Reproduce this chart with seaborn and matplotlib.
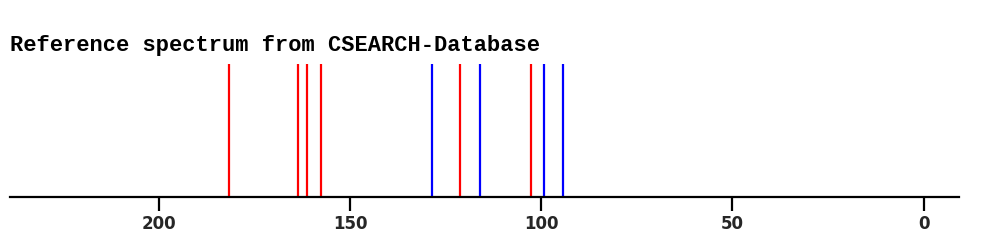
import matplotlib
matplotlib.use("Agg")
import matplotlib.pyplot as plt
import seaborn as sns
import pandas as pd

# Chemical shifts (ppm)
red_shifts = [181.6, 163.6, 161.3, 157.6, 121.3, 102.7]
blue_shifts = [128.5, 116.1, 99.2, 94.2]
tick_values = [200, 150, 100, 50, 0]
title = "Reference spectrum from CSEARCH-Database"

df = pd.DataFrame({
    "shift": red_shifts + blue_shifts,
    "kind": ["red"] * len(red_shifts) + ["blue"] * len(blue_shifts),
})

sns.set_style("white")
fig = plt.figure(figsize=(9.93, 2.49), dpi=100)
ax = fig.add_axes([0.0097, 0.21, 0.9563, 0.533])

sns.rugplot(data=df, x="shift", hue="kind", palette={"red": "#ff0000", "blue": "#0000ff"},
            height=1.0, linewidth=1.6, expand_margins=False, legend=False, ax=ax)

ax.set_xlim(239.0, -9.3)
ax.set_ylim(0, 1)
ax.set_yticks([])
ax.set_xticks(tick_values)
ax.set_xticklabels([str(t) for t in tick_values], fontsize=12, fontweight="semibold",
                   family="DejaVu Sans")
ax.set_xlabel("")
ax.set_ylabel("")
for s in ["top", "left", "right"]:
    ax.spines[s].set_visible(False)
ax.spines["bottom"].set_color("black")
ax.spines["bottom"].set_linewidth(1.6)
ax.tick_params(axis="x", direction="out", length=10, width=1.6, color="black", pad=3,
               bottom=True)

fig.text(10 / 993, (249 - 50.5) / 249, title, family="Liberation Mono", fontweight="bold",
         fontsize=15.8, va="baseline", ha="left", color="black")

fig.savefig("out.png", dpi=100, facecolor="white")
